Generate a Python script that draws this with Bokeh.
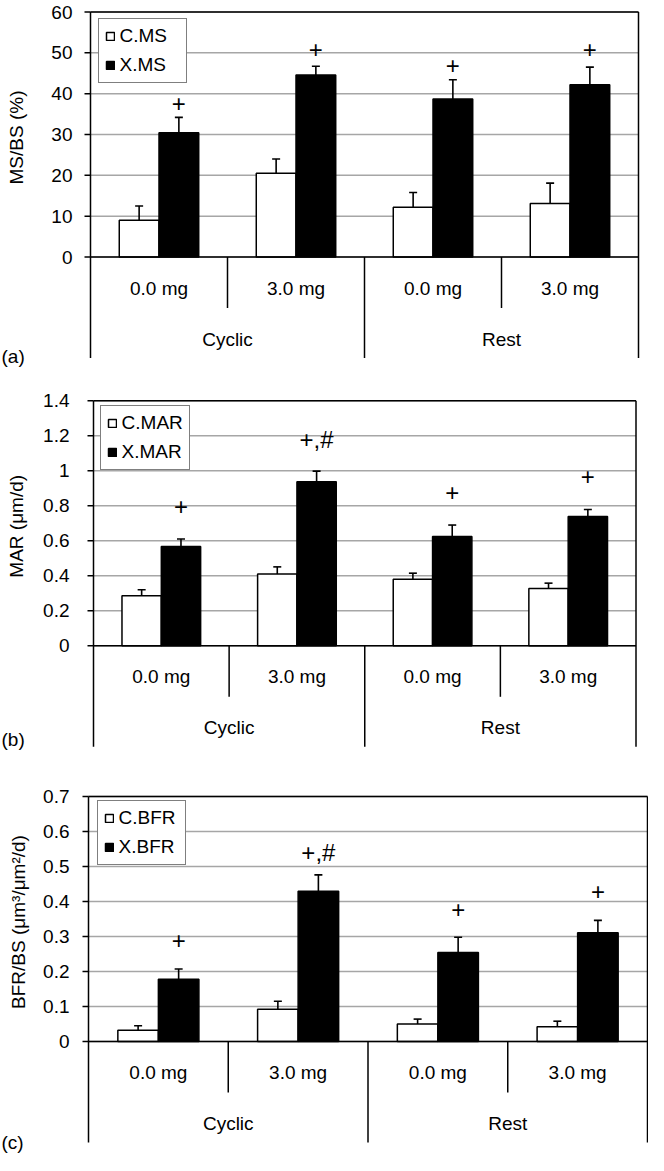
import math
from bokeh.plotting import figure
from bokeh.models import Legend, LegendItem, Range1d
from bokeh.layouts import column
from bokeh.embed import file_html
from bokeh.resources import INLINE
from bokeh.core.properties import value

# ---------------- data ----------------
groups = ["Cyclic", "Rest"]
doses = ["0.0 mg", "3.0 mg", "0.0 mg", "3.0 mg"]

ms_c = [9.0, 20.5, 12.2, 13.1]
ms_c_err = [3.5, 3.5, 3.6, 5.0]
ms_x = [30.4, 44.6, 38.7, 42.2]
ms_x_err = [3.8, 2.1, 4.7, 4.3]
ms_marks = ["+", "+", "+", "+"]
ms_mark_y = [37.5, 50.9, 46.8, 50.9]
ms_ticks = [0, 10, 20, 30, 40, 50, 60]

mar_c = [0.286, 0.41, 0.381, 0.328]
mar_c_err = [0.034, 0.041, 0.034, 0.030]
mar_x = [0.568, 0.937, 0.625, 0.739]
mar_x_err = [0.042, 0.061, 0.065, 0.040]
mar_marks = ["+", "+,#", "+", "+"]
mar_mark_y = [0.796, 1.18, 0.876, 0.968]
mar_ticks = [0, 0.2, 0.4, 0.6, 0.8, 1, 1.2, 1.4]

bfr_c = [0.032, 0.092, 0.050, 0.042]
bfr_c_err = [0.013, 0.023, 0.014, 0.016]
bfr_x = [0.178, 0.429, 0.254, 0.311]
bfr_x_err = [0.029, 0.047, 0.044, 0.035]
bfr_marks = ["+", "+,#", "+", "+"]
bfr_mark_y = [0.290, 0.54, 0.376, 0.429]
bfr_ticks = [0, 0.1, 0.2, 0.3, 0.4, 0.5, 0.6, 0.7]

# ---------------- styling / geometry (page pixels) ----------------
FONT = "Liberation Sans"
FS = "19px"
MARK_FS = "24px"
PAGE_L, PAGE_R = 8, 656
PLOT_H = 245          # data part height
CAT_H = 101           # category area below zero
SEP_H = 51            # inner separators
DOSE_DY = 31          # dose labels below zero
GROUP_DY = 82         # group labels below zero
BAR_W = 0.29
CAP_PX = 4
TICK_PX = 6
GRID = "#a6a6a6"
LEG_H = 61.4


def make_panel(c_vals, c_err, x_vals, x_err, marks, mark_y, ticks,
               c_name, x_name, ytitle, tag, frame_left, frame_right,
               top, height, data_top, title_x, tag_y, tick_right, leg_left, leg_top):
    ymax = ticks[-1]
    ppu = PLOT_H / ymax
    gw = (frame_right - frame_left) / 4.0
    zero = data_top + PLOT_H

    def X(px):  # page x -> data x
        return (px - frame_left) / gw

    def Y(py):  # page y -> data y
        return (zero - py) / ppu

    p = figure(width=PAGE_R - PAGE_L, height=height,
               x_range=Range1d(X(PAGE_L), X(PAGE_R)),
               y_range=Range1d(Y(top + height), Y(top)),
               min_border=0, x_axis_location=None, y_axis_location=None,
               toolbar_location=None, output_backend="svg")
    p.outline_line_color = None
    p.grid.visible = False

    ybot = -CAT_H / ppu
    n = len(ticks)

    # gridlines
    p.segment(x0=[0] * n, x1=[4] * n, y0=ticks, y1=ticks, line_color=GRID, line_width=1.5)

    xc = [i + 0.5 - BAR_W / 2 for i in range(4)]
    xx = [i + 0.5 + BAR_W / 2 for i in range(4)]
    rc = p.vbar(x=xc, top=c_vals, bottom=0, width=BAR_W, fill_color="white",
                line_color="black", line_width=1.5)
    rx = p.vbar(x=xx, top=x_vals, bottom=0, width=BAR_W, fill_color="black",
                line_color="black", line_width=1.5)

    cap = CAP_PX / gw
    for xs, vals, errs in ((xc, c_vals, c_err), (xx, x_vals, x_err)):
        tops = [v + e for v, e in zip(vals, errs)]
        p.segment(x0=xs, y0=vals, x1=xs, y1=tops, line_color="black", line_width=1.6)
        p.segment(x0=[x - cap for x in xs], y0=tops, x1=[x + cap for x in xs], y1=tops,
                  line_color="black", line_width=1.6)

    p.text(x=xx, y=mark_y, text=marks, text_align="center", text_baseline="middle",
           text_font=value(FONT), text_font_size=value(MARK_FS), text_color="black")

    # frame lines: left axis, right border, top border, zero line
    p.segment(x0=[0, 4], x1=[0, 4], y0=[ymax, ymax], y1=[ybot, ybot],
              line_color="black", line_width=1.5)
    p.segment(x0=[0, 0], x1=[4, 4], y0=[ymax, 0], y1=[ymax, 0],
              line_color="black", line_width=1.5)
    # y ticks and labels
    p.segment(x0=[-TICK_PX / gw] * n, x1=[0] * n, y0=ticks, y1=ticks,
              line_color="black", line_width=1.5)
    p.text(x=[X(tick_right)] * n, y=ticks, text=[f"{t:g}" for t in ticks],
           text_align="right", text_baseline="middle",
           text_font=value(FONT), text_font_size=value(FS), text_color="black")

    # category axis (two levels)
    p.segment(x0=[1, 3], y0=[0, 0], x1=[1, 3], y1=[-SEP_H / ppu] * 2,
              line_color="black", line_width=1.5)
    p.segment(x0=[2], y0=[0], x1=[2], y1=[ybot], line_color="black", line_width=1.5)
    p.text(x=[i + 0.5 for i in range(4)], y=[-DOSE_DY / ppu] * 4, text=doses,
           text_align="center", text_baseline="middle",
           text_font=value(FONT), text_font_size=value(FS), text_color="black")
    p.text(x=[1, 3], y=[-GROUP_DY / ppu] * 2, text=groups,
           text_align="center", text_baseline="middle",
           text_font=value(FONT), text_font_size=value(FS), text_color="black")

    # y axis title and panel tag
    p.text(x=[X(title_x)], y=[ymax / 2 - 3 / ppu], text=[ytitle], angle=math.pi / 2,
           text_align="center", text_baseline="middle",
           text_font=value(FONT), text_font_size=value(FS), text_color="black")
    p.text(x=[X(PAGE_L + 1)], y=[Y(tag_y)], text=[tag], text_align="left",
           text_baseline="middle",
           text_font=value(FONT), text_font_size=value(FS), text_color="black")

    legend = Legend(items=[LegendItem(label=c_name, renderers=[rc]),
                           LegendItem(label=x_name, renderers=[rx])],
                    location=(leg_left - PAGE_L, (top + height) - (leg_top + LEG_H)),
                    padding=6, spacing=7, margin=0,
                    glyph_width=10, glyph_height=10, label_standoff=5,
                    label_width=60, label_height=21,
                    label_text_font=FONT, label_text_font_size=FS,
                    label_text_color="black",
                    border_line_color="black", border_line_width=1.5,
                    background_fill_color="white", background_fill_alpha=1.0)
    p.add_layout(legend)
    return p


pa = make_panel(ms_c, ms_c_err, ms_x, ms_x_err, ms_marks, ms_mark_y, ms_ticks,
                "C.MS", "X.MS", "MS/BS (%)", "(a)",
                frame_left=98, frame_right=646, top=8, height=389, data_top=19.5,
                title_x=24, tag_y=363.5, tick_right=80, leg_left=105.5, leg_top=30)
pb = make_panel(mar_c, mar_c_err, mar_x, mar_x_err, mar_marks, mar_mark_y, mar_ticks,
                "C.MAR", "X.MAR", "MAR (μm/d)", "(b)",
                frame_left=101, frame_right=643.5, top=397, height=393, data_top=408.3,
                title_x=24, tag_y=747, tick_right=77, leg_left=107.6, leg_top=417)
pc = make_panel(bfr_c, bfr_c_err, bfr_x, bfr_x_err, bfr_marks, bfr_mark_y, bfr_ticks,
                "C.BFR", "X.BFR", "BFR/BS (μm³/μm²/d)", "(c)",
                frame_left=96, frame_right=655, top=790, height=373, data_top=804,
                title_x=25.5, tag_y=1150, tick_right=77, leg_left=104.6, leg_top=811.7)

layout = column(pa, pb, pc, spacing=0)
open("out.html", "w").write(file_html(layout, INLINE))
